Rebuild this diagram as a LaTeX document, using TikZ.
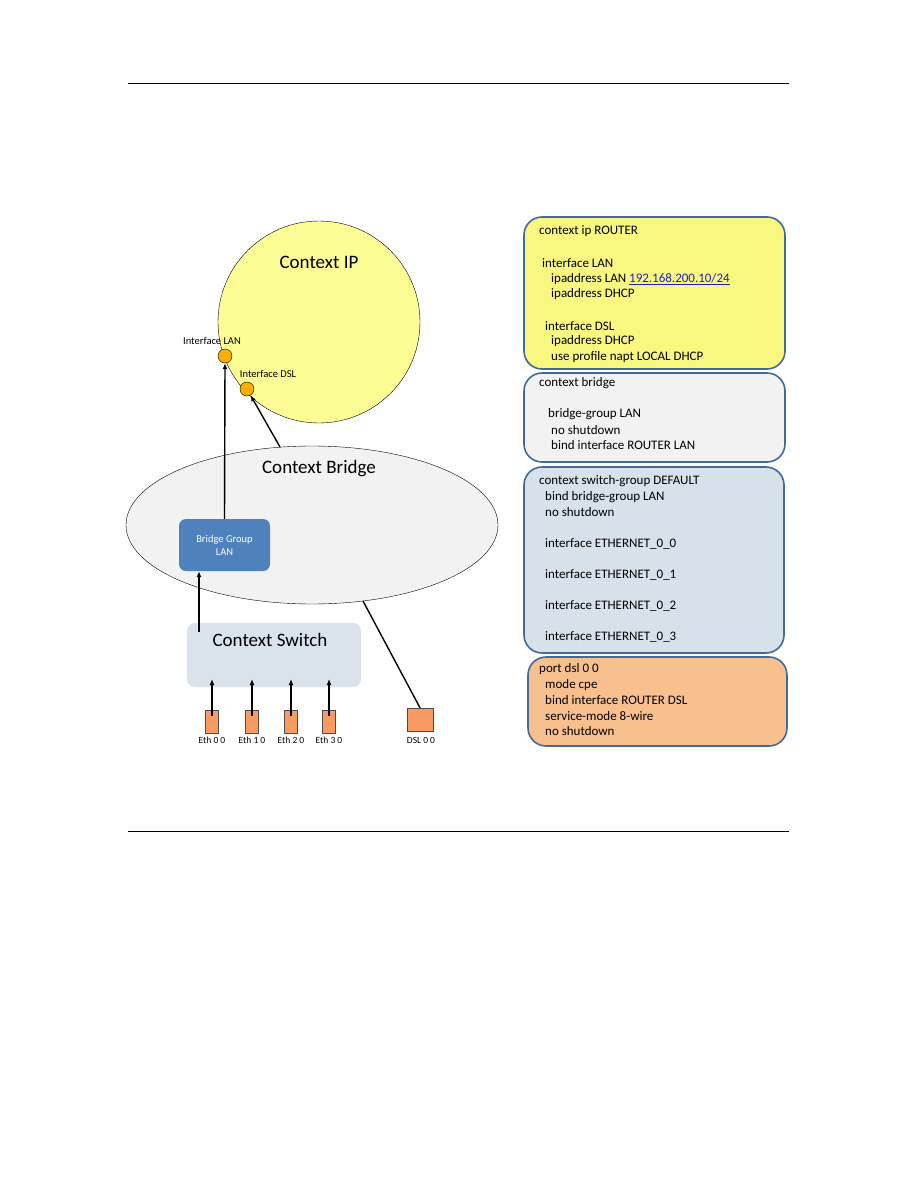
\documentclass[tikz,border=0pt]{standalone}
\usepackage{fontspec}
\setmainfont{Carlito}
\usetikzlibrary{shapes.geometric,arrows.meta}
\definecolor{ipyel}{HTML}{FDFD96}
\definecolor{boxyel}{HTML}{F8F880}
\definecolor{brgray}{HTML}{F2F2F2}
\definecolor{bgblue}{HTML}{4F81BD}
\definecolor{swblue}{HTML}{DAE3EA}
\definecolor{cfgblue}{HTML}{D6E1EA}
\definecolor{cfgorange}{HTML}{F9C08F}
\definecolor{ethorange}{HTML}{F79B63}
\definecolor{ifdot}{HTML}{F5B000}
\definecolor{frame}{HTML}{41699A}
\definecolor{linkblue}{HTML}{2020C0}
\tikzset{
  arr/.style={line width=1.4pt,-{Latex[length=6pt,width=5pt]}},
  cfg/.style={draw=frame,line width=1.6pt,rounded corners=18pt},
  cl/.style={anchor=west,inner sep=0pt,font=\fontsize{13}{15}\selectfont},
  big/.style={font=\fontsize{19}{22}\selectfont},
  small/.style={font=\fontsize{10.5}{12}\selectfont},
  eth/.style={draw=black!70,fill=ethorange,minimum width=13pt,minimum height=23pt,inner sep=0pt},
  ethl/.style={font=\fontsize{9.5}{11}\selectfont,inner sep=0pt},
  ifc/.style={circle,draw=black,fill=ifdot,minimum size=14pt,inner sep=0pt}
}
\begin{document}
\begin{tikzpicture}[x=1pt,y=-1pt]
\useasboundingbox (0,0) rectangle (918,1188);
% rules
\draw[line width=1pt] (128,84) -- (789,84);
\draw[line width=1pt] (128,831) -- (789,831);

% context IP
\node[circle,draw=black,fill=ipyel,minimum size=202pt,inner sep=0pt] (ip) at (319,322) {};
\node[big] (iplabel) at (319,262) {Context IP};
\node[ifc] (lan) at (225,356) {};
\node[ifc] (dsl) at (247,389) {};
\node[small] (lanl) at (212,341) {Interface LAN};
\node[small] (dsll) at (268,374) {Interface DSL};

% context bridge
\node[ellipse,draw=black,fill=brgray,minimum width=372pt,minimum height=158pt,inner sep=0pt] (br) at (312,525) {};
\node[big] (brl) at (319,469) {Context Bridge};
\node[draw=none,fill=bgblue,rounded corners=7pt,minimum width=91pt,minimum height=52pt,inner sep=0pt,
      text=white,align=center,font=\fontsize{10.5}{13}\selectfont] (bg) at (224.5,545) {Bridge Group\\LAN};

% context switch
\node[fill=swblue,rounded corners=8pt,minimum width=174pt,minimum height=64pt,inner sep=0pt] (sw) at (274,655) {};
\node[big] (swl) at (270,640) {Context Switch};

% eth ports
\node[eth] (e0) at (212,721.5) {};
\node[eth] (e1) at (252,721.5) {};
\node[eth] (e2) at (291,721.5) {};
\node[eth] (e3) at (329,721.5) {};
\node[draw=black!70,fill=ethorange,minimum width=26pt,minimum height=23pt,inner sep=0pt] (d0) at (420,719.5) {};
\node[ethl] (e0l) at (212,740) {Eth 0 0};
\node[ethl] (e1l) at (252,740) {Eth 1 0};
\node[ethl] (e2l) at (291,740) {Eth 2 0};
\node[ethl] (e3l) at (329,740) {Eth 3 0};
\node[ethl] (d0l) at (421,740) {DSL 0 0};

% connectors
\coordinate (brtop) at (280,447);
\coordinate (brbot) at (363,601);
\coordinate (swtop) at (199,632);
\draw[arr] (bg.north) -- (lan.south);
\draw[arr] (brtop) -- (dsl);
\draw[arr] (swtop) -- (swtop |- bg.south);
\foreach \e in {e0,e1,e2,e3}{
  \draw[arr] ([yshift=5.5pt]\e.center) -- ([yshift=42.5pt]\e.center);
}
\draw[line width=1.4pt] (d0.north) -- (brbot);

% config boxes
\node[cfg,fill=boxyel,minimum width=261pt,minimum height=152pt,inner sep=0pt] (c1) at (654.5,293) {};
\node[cl] (t11) at (539,231.5) {context ip ROUTER};
\node[cl] (t12) at (542,263) {interface LAN};
\node[cl] (t13) at (551,279) {ipaddress LAN \textcolor{linkblue}{\underline{192.168.200.10/24}}};
\node[cl] (t14) at (551,294.5) {ipaddress DHCP};
\node[cl] (t15) at (545,326) {interface DSL};
\node[cl] (t16) at (551,341) {ipaddress DHCP};
\node[cl] (t17) at (551,357) {use profile napt LOCAL DHCP};

\node[cfg,fill=brgray,minimum width=261pt,minimum height=89pt,inner sep=0pt] (c2) at (654.5,417.5) {};
\node[cl] (t21) at (539,383) {context bridge};
\node[cl] (t22) at (548,414) {bridge-group LAN};
\node[cl] (t23) at (551,430) {no shutdown};
\node[cl] (t24) at (551,445.5) {bind interface ROUTER LAN};

\node[cfg,fill=cfgblue,minimum width=260pt,minimum height=186pt,inner sep=0pt] (c3) at (654,560) {};
\node[cl] (t31) at (539,481) {context switch-group DEFAULT};
\node[cl] (t32) at (545,497) {bind bridge-group LAN};
\node[cl] (t33) at (545,512.5) {no shutdown};
\node[cl] (t34) at (545,543.5) {interface ETHERNET\_0\_0};
\node[cl] (t35) at (545,575) {interface ETHERNET\_0\_1};
\node[cl] (t36) at (545,606) {interface ETHERNET\_0\_2};
\node[cl] (t37) at (545,637) {interface ETHERNET\_0\_3};

\node[cfg,fill=cfgorange,minimum width=259pt,minimum height=89pt,inner sep=0pt] (c4) at (657.5,701.5) {};
\node[cl] (t41) at (539,669) {port dsl 0 0};
\node[cl] (t42) at (545,685) {mode cpe};
\node[cl] (t43) at (545,700.5) {bind interface ROUTER DSL};
\node[cl] (t44) at (545,716) {service-mode 8-wire};
\node[cl] (t45) at (545,731.5) {no shutdown};
\end{tikzpicture}
\end{document}
